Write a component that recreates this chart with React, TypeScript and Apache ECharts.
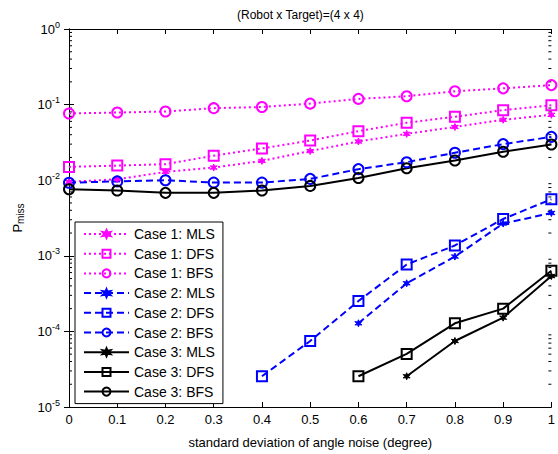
import React, { useEffect, useRef } from "react";
import * as echarts from "echarts";

const xValues = [0, 0.1, 0.2, 0.3, 0.4, 0.5, 0.6, 0.7, 0.8, 0.9, 1];
const xTickLabels = ["0", "0.1", "0.2", "0.3", "0.4", "0.5", "0.6", "0.7", "0.8", "0.9", "1"];
const yTickExponents = ["-5", "-4", "-3", "-2", "-1", "0"];

const case1MLS = [0.0095, 0.0103, 0.0129, 0.0147, 0.018, 0.0243, 0.0325, 0.041, 0.0506, 0.063, 0.0733];
const case1DFS = [0.015, 0.0156, 0.0163, 0.0211, 0.0263, 0.0335, 0.0445, 0.0576, 0.069, 0.0845, 0.098];
const case1BFS = [0.0764, 0.0785, 0.081, 0.0897, 0.093, 0.103, 0.119, 0.129, 0.15, 0.164, 0.181];
const case2MLS = [null, null, null, null, null, null, 1.28e-4, 4.33e-4, 9.77e-4, 2.67e-3, 3.68e-3];
const case2DFS = [null, null, null, null, 2.55e-5, 7.46e-5, 2.52e-4, 7.67e-4, 1.37e-3, 3.07e-3, 5.6e-3];
const case2BFS = [0.00927, 0.00964, 0.01, 0.0093, 0.0093, 0.0104, 0.014, 0.0173, 0.0231, 0.03, 0.0374];
const case3MLS = [null, null, null, null, null, null, null, 2.55e-5, 7.46e-5, 1.52e-4, 5.4e-4];
const case3DFS = [null, null, null, null, null, null, 2.55e-5, 5.04e-5, 1.28e-4, 2.0e-4, 6.34e-4];
const case3BFS = [0.0076, 0.0073, 0.0068, 0.0068, 0.0073, 0.0084, 0.0107, 0.0144, 0.0182, 0.0238, 0.0297];

const FONT = "Liberation Sans, Arial, sans-serif";

function starPath(): string {
  const pts: string[] = [];
  for (let i = 0; i < 12; i++) {
    const a = (Math.PI / 6) * i - Math.PI / 2;
    const r = i % 2 === 0 ? 1 : 0.45;
    pts.push(`${(Math.cos(a) * r).toFixed(3)},${(Math.sin(a) * r).toFixed(3)}`);
  }
  return "path://M" + pts.join(" L") + " Z";
}

const STAR = starPath();

export default function App() {
  const ref = useRef<HTMLDivElement>(null);
  useEffect(() => {
    if (!ref.current) return;
    const chart = echarts.init(ref.current, null, { renderer: "svg" });

    const toPairs = (arr: (number | null)[]) =>
      xValues.map((x, i) => [x, arr[i]]).filter((p) => p[1] !== null);

    const mk = (
      name: string,
      arr: (number | null)[],
      color: string,
      type: any,
      symbol: string
    ) => {
      const isStar = symbol === "star";
      return {
        name,
        type: "line",
        data: toPairs(arr),
        clip: false,
        symbol: isStar ? STAR : symbol === "square" ? "rect" : "circle",
        symbolSize: isStar ? 7 : 10,
        showAllSymbol: true,
        lineStyle: { color, width: 2, type },
        itemStyle: isStar
          ? { color, borderColor: color, borderWidth: 1 }
          : { color: "rgba(0,0,0,0)", borderColor: color, borderWidth: 2 },
        z: 3,
      };
    };

    const magenta = "#ff00ff";
    const blue = "#0000ff";
    const black = "#000000";
    const dotted = [2, 3];
    const dashed = [7, 4];

    const lineSeries = [
      mk("Case 1: MLS", case1MLS, magenta, dotted, "star"),
      mk("Case 1: DFS", case1DFS, magenta, dotted, "square"),
      mk("Case 1: BFS", case1BFS, magenta, dotted, "circle"),
      mk("Case 2: MLS", case2MLS, blue, dashed, "star"),
      mk("Case 2: DFS", case2DFS, blue, dashed, "square"),
      mk("Case 2: BFS", case2BFS, blue, dashed, "circle"),
      mk("Case 3: MLS", case3MLS, black, "solid", "star"),
      mk("Case 3: DFS", case3DFS, black, "solid", "square"),
      mk("Case 3: BFS", case3BFS, black, "solid", "circle"),
    ];

    const minorTicks: number[][] = [];
    for (let e = -5; e < 0; e++) {
      for (let k = 2; k <= 9; k++) minorTicks.push([0, k * Math.pow(10, e)]);
    }

    const option: any = {
      animation: false,
      backgroundColor: "#ffffff",
      textStyle: { fontFamily: FONT },
      title: {
        text: "(Robot x Target)=(4 x 4)",
        left: 232,
        top: 4,
        textStyle: { fontFamily: FONT, fontSize: 12, fontWeight: "normal", color: "#000" },
      },
      grid: { left: 69, right: 5, top: 29, bottom: 43 },
      legend: {
        orient: "vertical",
        left: 75,
        top: 222,
        data: lineSeries.map((s) => s.name),
        backgroundColor: "#fff",
        borderColor: "#000",
        borderWidth: 1,
        borderRadius: 0,
        padding: [5, 8, 5, 8],
        itemWidth: 45,
        itemHeight: 10,
        itemGap: 5.7,
        textStyle: { fontFamily: FONT, fontSize: 14, color: "#000", padding: [0, 0, 0, 0] },
      },
      xAxis: [
        {
          type: "value",
          min: 0,
          max: 1,
          interval: 0.1,
          name: "standard deviation of angle noise (degree)",
          nameLocation: "middle",
          nameGap: 29,
          nameTextStyle: { fontFamily: FONT, fontSize: 13, color: "#000" },
          axisLine: { lineStyle: { color: "#000", width: 1 } },
          axisTick: { inside: true, length: 5, lineStyle: { color: "#000" } },
          axisLabel: {
            color: "#000",
            fontSize: 13,
            fontFamily: FONT,
            margin: 6,
            formatter: (v: number) => xTickLabels[Math.round(v * 10)] ?? "",
          },
          splitLine: { show: false },
        },
        {
          type: "value",
          position: "top",
          min: 0,
          max: 1,
          interval: 0.1,
          axisLine: { lineStyle: { color: "#000", width: 1 } },
          axisTick: { inside: true, length: 5, lineStyle: { color: "#000" } },
          axisLabel: { show: false },
          splitLine: { show: false },
        },
      ],
      yAxis: [
        {
          type: "log",
          logBase: 10,
          min: 1e-5,
          max: 1,
          name: "{p|P}{s|miss}",
          nameLocation: "middle",
          nameGap: 44,
          nameRotate: 90,
          nameTextStyle: {
            fontFamily: FONT,
            color: "#000",
            rich: {
              p: { fontSize: 13, fontFamily: FONT, color: "#000" },
              s: { fontSize: 10, fontFamily: FONT, color: "#000", padding: [6, 0, 0, 0] },
            },
          },
          axisLine: { lineStyle: { color: "#000", width: 1 } },
          axisTick: { inside: true, length: 5, lineStyle: { color: "#000" } },
          axisLabel: {
            color: "#000",
            margin: 9,
            formatter: (v: number) => {
              const e = Math.round(Math.log10(v));
              const lbl = yTickExponents[e + 5];
              return lbl === undefined ? "" : `{b|10}{s|${lbl}}`;
            },
            rich: {
              b: { fontSize: 13, fontFamily: FONT, color: "#000" },
              s: { fontSize: 9, fontFamily: FONT, color: "#000", padding: [0, 0, 9, 0] },
            },
          },
          splitLine: { show: false },
        },
        {
          type: "log",
          logBase: 10,
          min: 1e-5,
          max: 1,
          position: "right",
          axisLine: { lineStyle: { color: "#000", width: 1 } },
          axisTick: { inside: true, length: 5, lineStyle: { color: "#000" } },
          axisLabel: { show: false },
          splitLine: { show: false },
        },
      ],
      series: [
        ...lineSeries,
        {
          type: "custom",
          name: "minorTicks",
          xAxisIndex: 0,
          yAxisIndex: 0,
          silent: true,
          clip: false,
          data: minorTicks,
          z: 1,
          renderItem: (params: any, api: any) => {
            const v = api.value(1);
            const l = api.coord([0, v]);
            const r = api.coord([1, v]);
            return {
              type: "group",
              children: [
                {
                  type: "line",
                  shape: { x1: l[0], y1: l[1], x2: l[0] + 3, y2: l[1] },
                  style: { stroke: "#000", lineWidth: 1 },
                },
                {
                  type: "line",
                  shape: { x1: r[0] - 3, y1: r[1], x2: r[0], y2: r[1] },
                  style: { stroke: "#000", lineWidth: 1 },
                },
              ],
            };
          },
        },
      ],
    };

    chart.setOption(option);
    return () => chart.dispose();
  }, []);

  return <div ref={ref} style={{ width: 558, height: 454, position: "absolute", left: 0, top: 0 }} />;
}
